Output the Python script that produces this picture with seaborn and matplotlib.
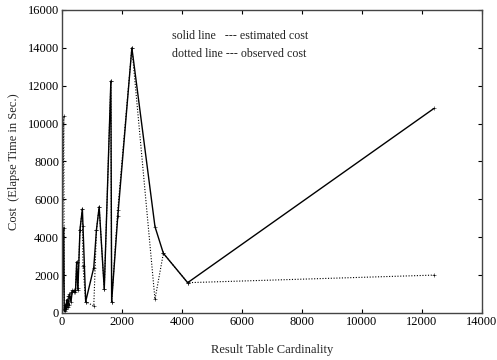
import numpy as np
import pandas as pd
import matplotlib
matplotlib.use("Agg")
import matplotlib.pyplot as plt
import seaborn as sns

# result table cardinality and costs (sec)
cardinality = [0, 60, 75, 90, 110, 130, 160, 200, 250, 300, 340, 400, 450, 490,
               530, 600, 680, 700, 790, 1060, 1150, 1240, 1410, 1630, 1656,
               1860, 2330, 3100, 3380, 4190, 12400]
estimated = [0, 4500, 150, 100, 400, 200, 700, 300, 1000, 600, 1100, 1200, 1100,
             2700, 1200, 4400, 5500, 4600, 600, 2400, 4400, 5600, 1260, 12250,
             600, 5100, 14000, 4560, 3150, 1600, 10800]
observed = [0, 10400, 200, 300, 200, 500, 300, 900, 400, 1100, 1200, 1100, 1200,
            2700, 1300, 4400, 5500, 2500, 600, 370, 4400, 5600, 1260, 12250,
            600, 5440, 14000, 720, 3150, 1600, 2000]

x_ticks = list(range(0, 14001, 2000))
y_ticks = list(range(0, 16001, 2000))

df = pd.DataFrame({"card": cardinality, "est": estimated, "obs": observed})

sns.set_theme(style="ticks")
plt.rcParams["font.family"] = ["Liberation Serif", "DejaVu Serif"]

fig = plt.figure(figsize=(4.97, 3.6), dpi=100)
ax = fig.add_axes([0.1247, 0.1306, 0.845, 0.8417])

sns.lineplot(data=df, x="card", y="obs", ax=ax, color="black", lw=0.8,
             linestyle=(0, (1, 1.5)), marker="+", markersize=3,
             markeredgewidth=0.4, markeredgecolor="black", sort=False)
sns.lineplot(data=df, x="card", y="est", ax=ax, color="black", lw=1.0,
             marker="+", markersize=3, markeredgewidth=0.4,
             markeredgecolor="black", sort=False)

ax.set_xlim(0, 14000)
ax.set_ylim(0, 16000)
ax.set_xticks(x_ticks)
ax.set_yticks(y_ticks)
ax.tick_params(direction="in", top=True, right=True, length=3, width=0.8,
               labelsize=9, colors="black", pad=2)
for s in ax.spines.values():
    s.set_color("#444444")
    s.set_linewidth(1.0)

ax.set_xlabel("Result Table Cardinality", fontsize=9, labelpad=12)
ax.set_ylabel("Cost  (Elapse Time in Sec.)", fontsize=9, labelpad=6)

ax.text(0.261, 0.914, "solid line   --- estimated cost", transform=ax.transAxes,
        fontsize=8.6, va="center", color="#222222")
ax.text(0.261, 0.855, "dotted line --- observed cost", transform=ax.transAxes,
        fontsize=8.6, va="center", color="#222222")

fig.savefig("out.png", dpi=100)
